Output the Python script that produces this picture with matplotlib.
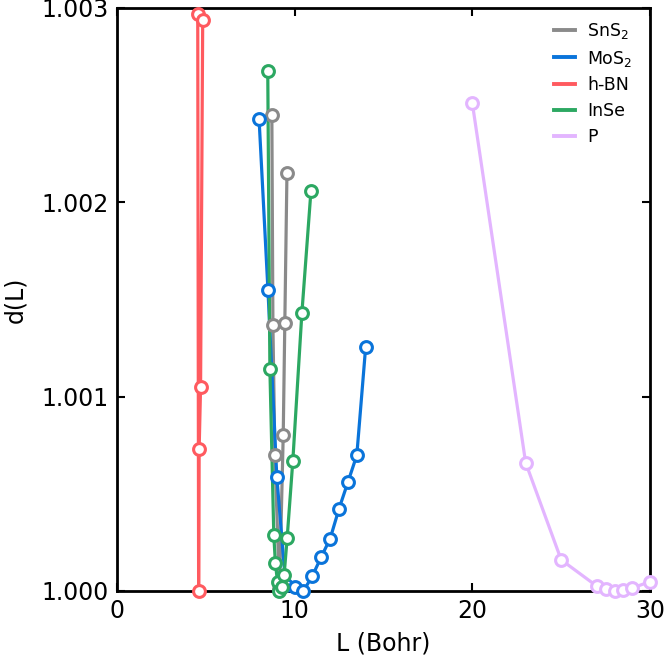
import matplotlib.pyplot as plt

# d(L) curves for each material
L_sns2 = [8.72, 8.78, 8.89, 9.15, 9.36, 9.45, 9.57]
d_sns2 = [1.00245, 1.00137, 1.00070, 1.00001, 1.00080, 1.00138, 1.00215]

L_mos2 = [8.0, 8.5, 9.0, 9.5, 10.0, 10.5, 11.0, 11.5, 12.0, 12.5, 13.0, 13.5, 14.0]
d_mos2 = [1.00243, 1.00155, 1.000586, 1.00003, 1.000019, 1.0, 1.000077,
          1.000175, 1.000269, 1.000423, 1.00056, 1.000698, 1.001257]

L_hbn = [4.55, 4.60, 4.63, 4.71, 4.83]
d_hbn = [1.00297, 1.0, 1.00073, 1.00105, 1.00294]

L_inse = [8.49, 8.61, 8.83, 8.92, 9.04, 9.15, 9.27, 9.41, 9.58, 9.90, 10.41, 10.92]
d_inse = [1.002676, 1.001142, 1.000288, 1.000142, 1.000047, 1.0, 1.000019,
          1.000082, 1.000271, 1.000669, 1.00143, 1.002058]

L_p = [20, 23, 25, 27, 27.5, 28, 28.5, 29, 30]
d_p = [1.00251, 1.00066, 1.00016, 1.000025, 1.00001, 1.0, 1.000003, 1.000015, 1.000048]

series = [
    ('SnS$_2$', L_sns2, d_sns2, '#8a8a8a'),
    ('MoS$_2$', L_mos2, d_mos2, '#0a74da'),
    ('h-BN', L_hbn, d_hbn, '#ff5a5f'),
    ('InSe', L_inse, d_inse, '#2ca862'),
    ('P', L_p, d_p, '#e3b5ff'),
]

fig = plt.figure(figsize=(6.64, 6.61), dpi=100)
ax = fig.add_axes([0.176, 0.106, 0.803, 0.882])

for name, L, d, c in series:
    ax.plot(L, d, '-', color=c, lw=2.3, clip_on=False, zorder=3)
    ax.plot(L, d, 'o', color=c, mfc='white', mec=c, ms=8.5, mew=2.2,
            clip_on=False, zorder=4)
    ax.plot([], [], '-', color=c, lw=2.8, label=name)

ax.set_xlim(0, 30)
ax.set_ylim(1.0, 1.003)
ax.set_xticks([0, 10, 20, 30])
ax.set_yticks([1.000, 1.001, 1.002, 1.003])
ax.set_yticklabels(['1.000', '1.001', '1.002', '1.003'])
ax.tick_params(direction='in', top=True, right=True, length=6, width=1.5,
               labelsize=17, pad=6)
for s in ax.spines.values():
    s.set_linewidth(2)

ax.set_xlabel('L (Bohr)', fontsize=17, labelpad=6)
ax.set_ylabel('d(L)', fontsize=17, labelpad=10)

ax.legend(loc='upper right', bbox_to_anchor=(0.98, 0.99), borderaxespad=0,
          frameon=False, fontsize=12.5, handlelength=1.2,
          handletextpad=0.7, labelspacing=0.45)

fig.savefig('out.png', dpi=100)
